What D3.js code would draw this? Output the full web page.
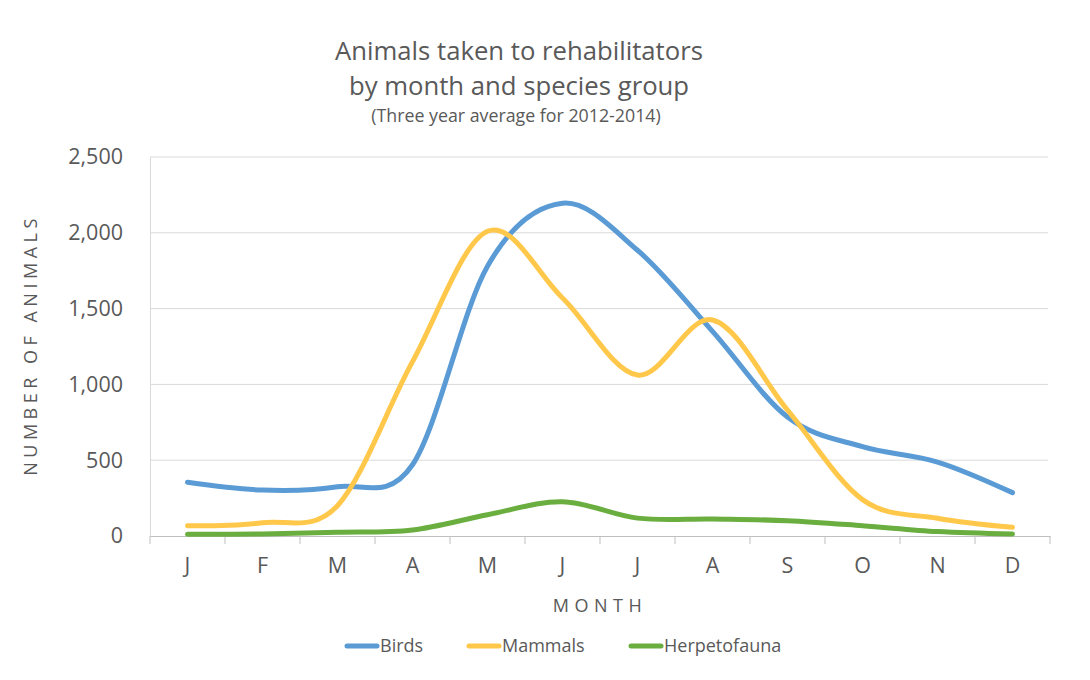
<!DOCTYPE html>
<html><head><meta charset="utf-8">
<script src="https://cdn.jsdelivr.net/npm/d3@7"></script>
<style>
body{margin:0;background:#fff;}
svg{display:block;font-family:"Open Sans","Noto Sans",sans-serif;}
</style></head>
<body><svg id="c" width="1090" height="680"></svg>
<script>
const months = ["J","F","M","A","M","J","J","A","S","O","N","D"];
const birds = [354, 303, 325, 470, 1780, 2195, 1885, 1350, 785, 589, 488, 286];
const mammals = [68, 88, 200, 1150, 2010, 1570, 1062, 1425, 831, 240, 117, 57];
const herpetofauna = [11, 14, 24, 40, 140, 226, 118, 112, 101, 68, 29, 13];
const yTicks = [0, 500, 1000, 1500, 2000, 2500];
const seriesNames = ["Birds", "Mammals", "Herpetofauna"];
const seriesColors = ["#5B9BD5", "#FFC84A", "#6AAE3F"];
const series = [birds, mammals, herpetofauna];

const svg = d3.select("#c");
const pLeft = 150, pRight = 1050, pTop = 157, pBottom = 536;
const x = d3.scaleBand().domain(d3.range(months.length)).range([pLeft, pRight]).padding(0);
const y = d3.scaleLinear().domain([0, 2500]).range([pBottom, pTop]);
const textColor = "#595959";

// gridlines
svg.append("g").selectAll("line").data(yTicks.filter(d => d > 0)).join("line")
  .attr("x1", pLeft).attr("x2", pRight - 2)
  .attr("y1", d => y(d)).attr("y2", d => y(d))
  .attr("stroke", "#D9D9D9").attr("stroke-width", 1);

// left axis
const ya = svg.append("g").attr("transform", `translate(${pLeft},0)`)
  .call(d3.axisLeft(y).tickValues(yTicks).tickFormat(d3.format(",")).tickSize(0).tickPadding(27));
ya.select(".domain").attr("stroke", "#D9D9D9");
ya.selectAll("text").attr("fill", textColor).style("font-size", "21.5px").style("font-family", "'Open Sans',sans-serif");

// bottom axis
const xa = svg.append("g").attr("transform", `translate(0,${pBottom})`)
  .call(d3.axisBottom(x).tickFormat(i => months[i]).tickSize(0).tickPadding(22));
xa.select(".domain").attr("stroke", "#BFBFBF");
xa.selectAll("text").attr("fill", textColor).style("font-size", "21.5px").style("font-family", "'Open Sans',sans-serif");
const bounds = d3.range(months.length + 1).map(i => pLeft + i * x.bandwidth());
xa.append("g").selectAll("line").data(bounds).join("line")
  .attr("x1", d => d).attr("x2", d => d).attr("y1", 0).attr("y2", 8)
  .attr("stroke", "#BFBFBF");

// lines
const line = d3.line()
  .x((d, i) => x(i) + x.bandwidth() / 2)
  .y(d => y(d))
  .curve(d3.curveCatmullRom.alpha(0));
svg.append("g").selectAll("path").data(series).join("path")
  .attr("d", d => line(d))
  .attr("fill", "none")
  .attr("stroke", (d, i) => seriesColors[i])
  .attr("stroke-width", 5)
  .attr("stroke-linecap", "round")
  .attr("stroke-linejoin", "round");

// titles
svg.append("text").attr("x", 519).attr("y", 60).attr("text-anchor", "middle")
  .attr("fill", textColor).style("font-size", "25.7px").text("Animals taken to rehabilitators");
svg.append("text").attr("x", 519).attr("y", 95).attr("text-anchor", "middle")
  .attr("fill", textColor).style("font-size", "25.7px").text("by month and species group");
svg.append("text").attr("x", 516).attr("y", 122).attr("text-anchor", "middle")
  .attr("fill", textColor).style("font-size", "17.8px").text("(Three year average for 2012-2014)");

// axis titles
svg.append("text").attr("transform", "translate(37,345) rotate(-90)").attr("text-anchor", "middle")
  .attr("fill", textColor).style("font-size", "18px").style("letter-spacing", "4.5px")
  .text("NUMBER OF ANIMALS");
svg.append("text").attr("x", 600).attr("y", 612).attr("text-anchor", "middle")
  .attr("fill", textColor).style("font-size", "18px").style("letter-spacing", "5.5px")
  .text("MONTH");

// legend
const legX = [347, 469, 631];
const lg = svg.append("g").selectAll("g").data(seriesNames).join("g")
  .attr("transform", (d, i) => `translate(${legX[i]},646)`);
lg.append("line").attr("x1", 0).attr("x2", 30).attr("y1", 0).attr("y2", 0)
  .attr("stroke", (d, i) => seriesColors[i]).attr("stroke-width", 5).attr("stroke-linecap", "round");
lg.append("text").attr("x", 33).attr("y", 6).attr("fill", textColor)
  .style("font-size", "18px").text(d => d);
</script></body></html>
